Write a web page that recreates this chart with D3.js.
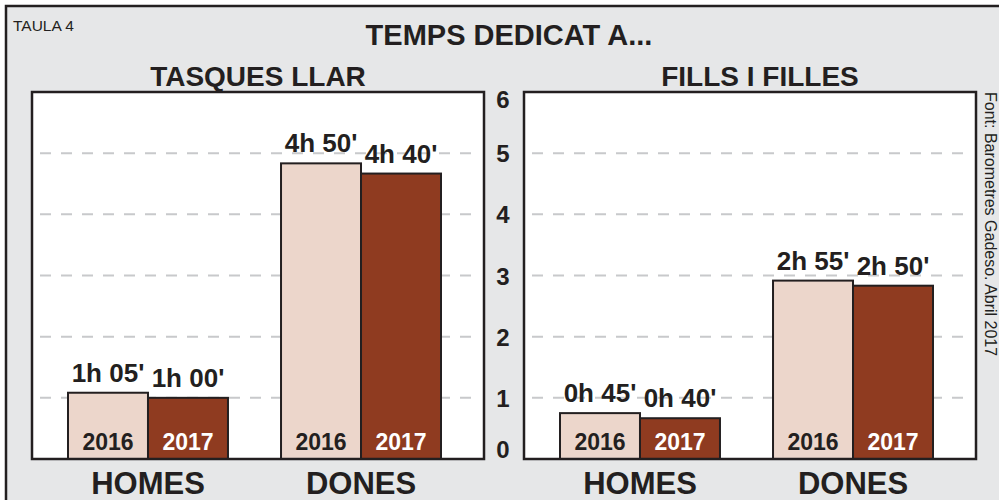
<!DOCTYPE html>
<html>
<head>
<meta charset="utf-8">
<script src="https://cdn.jsdelivr.net/npm/d3@7"></script>
<style>
  body { margin: 0; background: #fff; }
  text { font-family: "Liberation Sans", Arial, sans-serif; fill: #231f20; }
</style>
</head>
<body>
<div id="chart"></div>
<script>
// Data (hours)
let groups = ["HOMES", "DONES"];
let years = ["2016", "2017"];
let tasquesValues = [[1 + 5 / 60, 1], [4 + 50 / 60, 4 + 40 / 60]];
let tasquesLabels = [["1h 05'", "1h 00'"], ["4h 50'", "4h 40'"]];
let fillsValues = [[45 / 60, 40 / 60], [2 + 55 / 60, 2 + 50 / 60]];
let fillsLabels = [["0h 45'", "0h 40'"], ["2h 55'", "2h 50'"]];
let yTicks = [0, 1, 2, 3, 4, 5, 6];

let svgWidth = 999;
let svgHeight = 500;

let svg = d3.select("#chart")
  .append("svg")
  .attr("width", svgWidth)
  .attr("height", svgHeight);

// grey frame
svg.append("rect")
  .attr("x", 6)
  .attr("y", 6)
  .attr("width", 1100)
  .attr("height", 600)
  .attr("fill", "#e6e7e8")
  .attr("stroke", "#231f20")
  .attr("stroke-width", 2.5);

svg.append("text")
  .attr("x", 13)
  .attr("y", 31)
  .style("font-size", "15.5px")
  .text("TAULA 4");

svg.append("text")
  .attr("x", 509)
  .attr("y", 45)
  .attr("text-anchor", "middle")
  .style("font-size", "29px")
  .style("font-weight", "bold")
  .text("TEMPS DEDICAT A...");

svg.append("text")
  .attr("transform", "translate(985, 92) rotate(90)")
  .style("font-size", "16px")
  .text("Font: Barometres Gadeso. Abril 2017");

let panelW = 452;
let panelTop = 92;
let panelBottom = 459;

let y = d3.scaleLinear()
  .domain([0, 6])
  .range([panelBottom, panelTop]);

let x0 = d3.scaleBand()
  .domain(groups)
  .range([36, 409])
  .paddingInner(0.249);

let x1 = d3.scaleBand()
  .domain(years)
  .range([0, x0.bandwidth()]);

let colors = { "2016": "#ecd6cb", "2017": "#8f3b20" };

// y axis labels between the panels
let yAxis = svg.append("g")
  .attr("transform", "translate(503, 0)")
  .call(d3.axisLeft(y).tickValues(yTicks).tickFormat(d3.format("d")).tickSize(0).tickPadding(0));

yAxis.select(".domain").remove();
yAxis.selectAll("text")
  .attr("text-anchor", "middle")
  .attr("x", 0)
  .attr("dy", d => d === 6 ? "0.65em" : d === 0 ? "-0.05em" : "0.36em")
  .style("font-size", "24px")
  .style("font-weight", "bold")
  .style("font-family", "'Liberation Sans', Arial, sans-serif")
  .attr("fill", "#231f20");

function drawPanel(left, title, titleX, values, labels) {
  let g = svg.append("g")
    .attr("transform", `translate(${left}, 0)`);

  svg.append("text")
    .attr("x", titleX)
    .attr("y", 86)
    .attr("text-anchor", "middle")
    .style("font-size", "28px")
    .style("font-weight", "bold")
    .text(title);

  g.append("rect")
    .attr("x", 0)
    .attr("y", panelTop)
    .attr("width", panelW)
    .attr("height", panelBottom - panelTop)
    .attr("fill", "#fff");

  // dashed grid
  g.selectAll(".grid")
    .data(yTicks.filter(d => d > 0 && d < 6))
    .enter()
    .append("line")
    .attr("x1", 8)
    .attr("x2", panelW - 8)
    .attr("y1", d => y(d))
    .attr("y2", d => y(d))
    .attr("stroke", "#c8c9cb")
    .attr("stroke-width", 2)
    .attr("stroke-dasharray", "11,10");

  let node = g.selectAll(".grp")
    .data(groups)
    .enter()
    .append("g")
    .attr("transform", d => `translate(${x0(d)}, 0)`);

  node.selectAll("rect")
    .data((d, i) => years.map((yr, j) => ({ yr: yr, v: values[i][j], lab: labels[i][j] })))
    .enter()
    .append("rect")
    .attr("x", d => x1(d.yr))
    .attr("y", d => y(d.v))
    .attr("width", x1.bandwidth())
    .attr("height", d => panelBottom - y(d.v))
    .attr("fill", d => colors[d.yr])
    .attr("stroke", "#231f20")
    .attr("stroke-width", 2);

  node.selectAll(".val")
    .data((d, i) => years.map((yr, j) => ({ yr: yr, v: values[i][j], lab: labels[i][j] })))
    .enter()
    .append("text")
    .attr("x", d => x1(d.yr) + x1.bandwidth() / 2)
    .attr("y", d => y(d.v) - 11)
    .attr("text-anchor", "middle")
    .style("font-size", "26px")
    .style("font-weight", "bold")
    .text(d => d.lab);

  node.selectAll(".yr")
    .data(years)
    .enter()
    .append("text")
    .attr("x", d => x1(d) + x1.bandwidth() / 2)
    .attr("y", 450)
    .attr("text-anchor", "middle")
    .style("font-size", "23px")
    .style("font-weight", "bold")
    .style("fill", d => d === "2017" ? "#fff" : "#231f20")
    .text(d => d);

  node.append("text")
    .attr("x", x0.bandwidth() / 2)
    .attr("y", 494)
    .attr("text-anchor", "middle")
    .style("font-size", "31px")
    .style("font-weight", "bold")
    .text(d => d);

  // panel border on top
  g.append("rect")
    .attr("x", 0)
    .attr("y", panelTop)
    .attr("width", panelW)
    .attr("height", panelBottom - panelTop)
    .attr("fill", "none")
    .attr("stroke", "#231f20")
    .attr("stroke-width", 2.5);
}

drawPanel(32, "TASQUES LLAR", 258, tasquesValues, tasquesLabels);
drawPanel(524, "FILLS I FILLES", 760, fillsValues, fillsLabels);
</script>
</body>
</html>
